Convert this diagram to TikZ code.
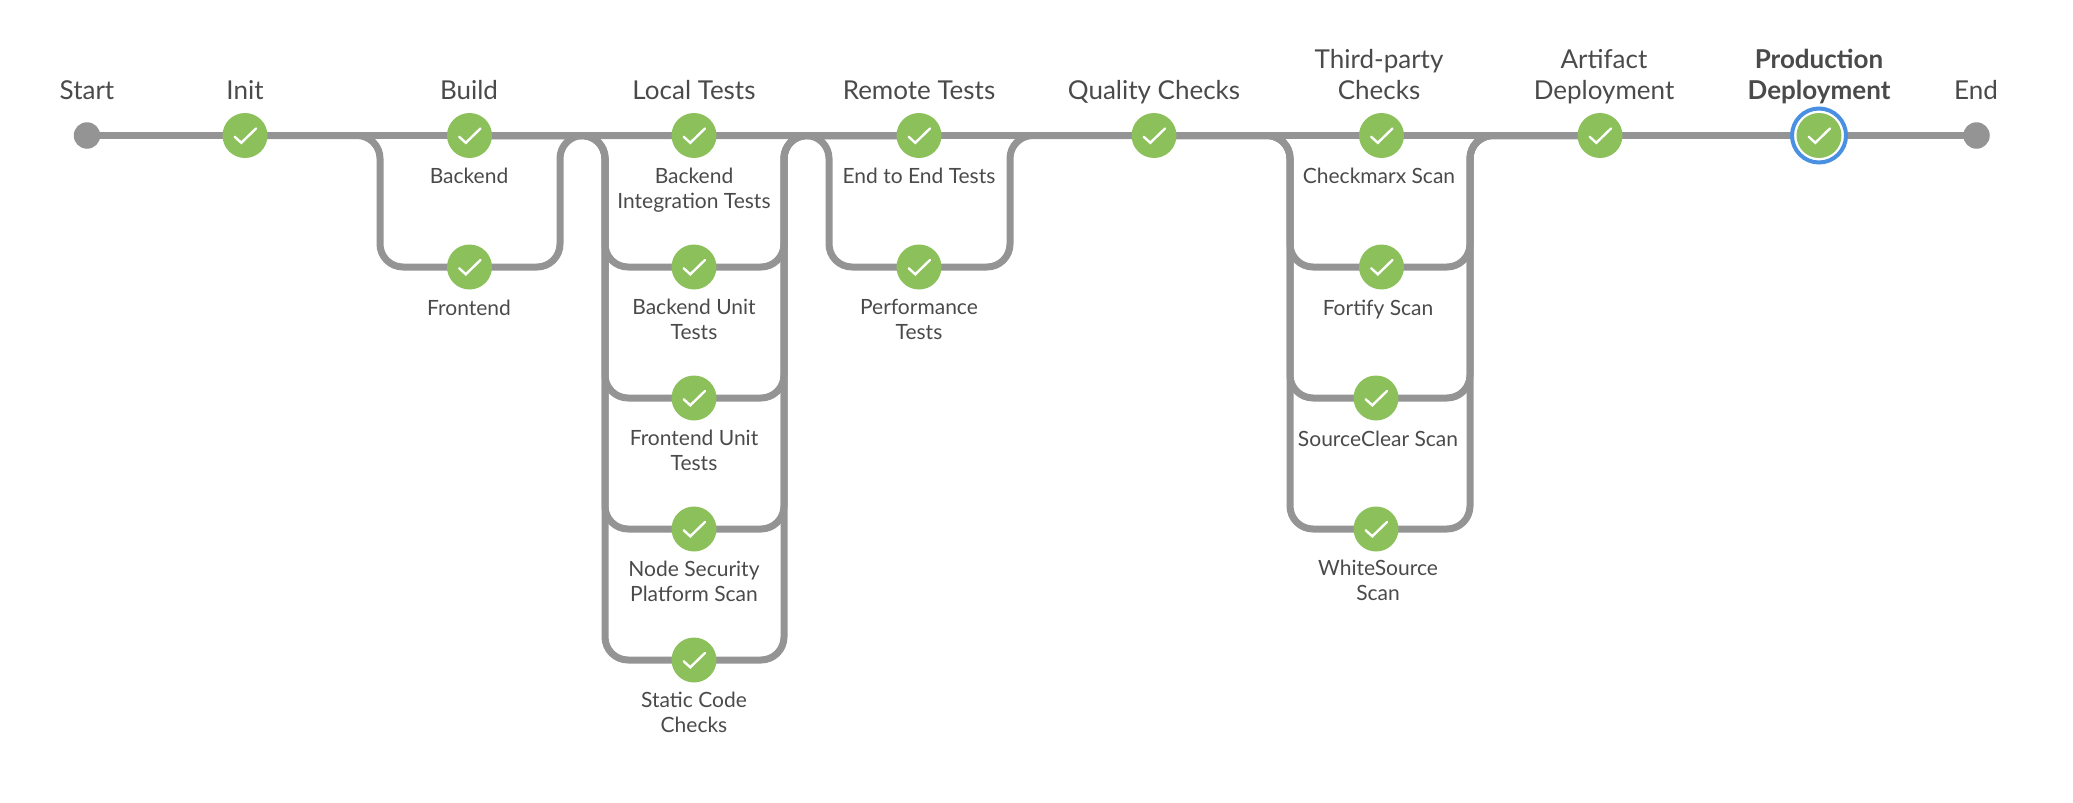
\documentclass[tikz,border=0pt]{standalone}
\usepackage{fontspec}
\setmainfont{Lato}
\usetikzlibrary{backgrounds,calc}
\definecolor{okgreen}{HTML}{8CC05B}
\definecolor{linegray}{HTML}{949494}
\definecolor{txtgray}{HTML}{4A4A4A}
\definecolor{ringblue}{HTML}{4A90E2}
\tikzset{
  stage/.style={circle,fill=okgreen,minimum size=45pt,inner sep=0pt,
    path picture={\draw[white,line width=2.4pt,line cap=round,line join=miter]
      ([shift={(-10.3pt,-1.3pt)}]path picture bounding box.center) --
      ([shift={(-3.7pt,-7.3pt)}]path picture bounding box.center) --
      ([shift={(11pt,7pt)}]path picture bounding box.center);}},
  terminal/.style={circle,fill=linegray,minimum size=26.5pt,inner sep=0pt},
  toplabel/.style={anchor=south,align=center,inner sep=0pt,text=txtgray,
    font=\fontsize{26}{31}\selectfont,execute at end node=\strut},
  sublabel/.style={anchor=north,align=center,inner sep=0pt,text=txtgray,
    font=\fontsize{21}{25}\selectfont,execute at begin node=\strut},
  conn/.style={draw=linegray,line width=7pt},
  branch/.style={conn,rounded corners=23pt}
}
\begin{document}
\begin{tikzpicture}[x=1pt,y=-1pt]
\useasboundingbox (0,0) rectangle (2073,803);
% main row
\node[terminal] (start) at (87,135.5) {};
\node[stage] (init) at (245,135.5) {};
\node[stage] (build) at (469.5,135.5) {};
\node[stage] (local) at (694,135.5) {};
\node[stage] (remote) at (919,135.5) {};
\node[stage] (quality) at (1154,135.5) {};
\node[stage] (third) at (1381.5,135.5) {};
\node[stage] (artifact) at (1600,135.5) {};
\node[stage] (prod) at (1819,135.5) {};
\node[terminal] (end) at (1976.5,135.5) {};
% branches
\node[stage] (frontend) at (469.5,267) {};
\node[stage] (bunit) at (694,267) {};
\node[stage] (funit) at (694,398) {};
\node[stage] (nsp) at (694,529) {};
\node[stage] (static) at (694,660) {};
\node[stage] (perf) at (919,267) {};
\node[stage] (fortify) at (1381.5,267) {};
\node[stage] (sourceclear) at (1376,398) {};
\node[stage] (whitesource) at (1376,529) {};
\begin{scope}[on background layer]
  \draw[conn] (start.center) -- (end.center);
  \foreach \n/\l/\r/\a/\b in {
    frontend/380/560/init/local,
    bunit/605/784/build/remote,
    funit/605/784/build/remote,
    nsp/605/784/build/remote,
    static/605/784/build/remote,
    perf/829/1010/local/quality,
    fortify/1290/1470/quality/artifact,
    sourceclear/1290/1470/quality/artifact,
    whitesource/1290/1470/quality/artifact}{
    \draw[branch] (\a.center) -| (\l,0 |- \n.center) -- (\n.center) -| (\r,0 |- \b.center) -- (\b.center);
  }
  % focus ring of the current stage
  \draw[ringblue,line width=4pt,fill=white] (prod.center) circle (27pt);
\end{scope}
% stage labels
\node[toplabel] (lstart) at (87,108.5) {Start};
\node[toplabel] (linit) at (245,108.5) {Init};
\node[toplabel] (lbuild) at (469,108.5) {Build};
\node[toplabel] (llocal) at (694,108.5) {Local Tests};
\node[toplabel] (lremote) at (919,108.5) {Remote Tests};
\node[toplabel] (lquality) at (1154,108.5) {Quality Checks};
\node[toplabel] (lthird) at (1379,108.5) {Third-party\\Checks};
\node[toplabel] (lartifact) at (1604,108.5) {Artifact\\Deployment};
\node[toplabel,font=\fontsize{26}{31}\selectfont\bfseries] (lprod) at (1819,108.5) {Production\\Deployment};
\node[toplabel] (lend) at (1976,108.5) {End};
% branch labels
\node[sublabel] (l1) at (469,165.5) {Backend};
\node[sublabel] (l2) at (469,297.5) {Frontend};
\node[sublabel] (l3) at (694,168) {Backend\\Integration Tests};
\node[sublabel] (l4) at (694,299) {Backend Unit\\Tests};
\node[sublabel] (l5) at (694,430) {Frontend Unit\\Tests};
\node[sublabel] (l6) at (694,561) {Node Security\\Platform Scan};
\node[sublabel] (l7) at (694,692) {Static Code\\Checks};
\node[sublabel] (l8) at (919,165.5) {End to End Tests};
\node[sublabel] (l9) at (919,299) {Performance\\Tests};
\node[sublabel] (l10) at (1379,165.5) {Checkmarx Scan};
\node[sublabel] (l11) at (1378,297.5) {Fortify Scan};
\node[sublabel] (l12) at (1378,428.5) {SourceClear Scan};
\node[sublabel] (l13) at (1378,560) {WhiteSource\\Scan};
\end{tikzpicture}
\end{document}
